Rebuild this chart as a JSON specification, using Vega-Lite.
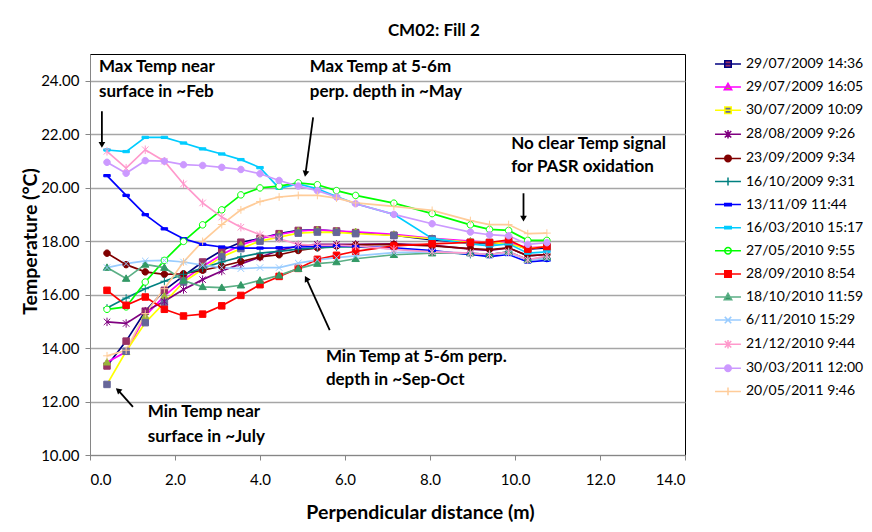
{
  "$schema": "https://vega.github.io/schema/vega-lite/v6.json",
  "width": 595,
  "height": 401,
  "padding": {"left": 20, "top": 22, "right": 0, "bottom": 5},
  "background": "white",
  "title": {"text": "CM02: Fill 2", "font": "Lato", "fontSize": 17, "fontWeight": "bold", "color": "black", "anchor": "middle", "frame": "bounds", "offset": 14, "dx": -10},
  "config": {
    "view": {"stroke": "black", "strokeWidth": 1},
    "axis": {"labelFont": "Lato", "labelFontSize": 15, "labelColor": "black", "titleFont": "Lato", "titleFontSize": 19.5, "titleFontWeight": "bold", "titleColor": "black", "domainColor": "#868686", "tickColor": "#868686", "tickSize": 5}
  },
  "datasets": {
    "series": [
      {"key": "s1", "name": "29/07/2009 14:36"},
      {"key": "s2", "name": "29/07/2009 16:05"},
      {"key": "s3", "name": "30/07/2009 10:09"},
      {"key": "s4", "name": "28/08/2009 9:26"},
      {"key": "s5", "name": "23/09/2009 9:34"},
      {"key": "s6", "name": "16/10/2009 9:31"},
      {"key": "s7", "name": "13/11/09 11:44"},
      {"key": "s8", "name": "16/03/2010 15:17"},
      {"key": "s9", "name": "27/05/2010 9:55"},
      {"key": "s10", "name": "28/09/2010 8:54"},
      {"key": "s11", "name": "18/10/2010 11:59"},
      {"key": "s12", "name": "6/11/2010 15:29"},
      {"key": "s13", "name": "21/12/2010 9:44"},
      {"key": "s14", "name": "30/03/2011 12:00"},
      {"key": "s15", "name": "20/05/2011 9:46"}
    ],
    "temps": [
      {"dist": 0.4, "s1": 13.33, "s2": 13.47, "s3": 12.64, "s4": 14.98, "s5": 17.55, "s6": 15.5, "s7": 20.45, "s8": 21.41, "s9": 15.45, "s10": 16.16, "s11": 17.01, "s12": 17.01, "s13": 21.36, "s14": 20.95, "s15": 13.71},
      {"dist": 0.85, "s1": 14.26, "s2": 13.86, "s3": 13.88, "s4": 14.92, "s5": 17.12, "s6": 15.87, "s7": 19.71, "s8": 21.35, "s9": 15.54, "s10": 15.6, "s11": 16.6, "s12": 17.16, "s13": 20.73, "s14": 20.54, "s15": 13.92},
      {"dist": 1.3, "s1": 15.38, "s2": 15.2, "s3": 14.95, "s4": 15.38, "s5": 16.85, "s6": 16.22, "s7": 18.99, "s8": 21.88, "s9": 16.47, "s10": 15.91, "s11": 17.13, "s12": 17.26, "s13": 21.42, "s14": 21.01, "s15": 15.29},
      {"dist": 1.75, "s1": 16.16, "s2": 15.95, "s3": 15.7, "s4": 15.75, "s5": 16.76, "s6": 16.5, "s7": 18.46, "s8": 21.88, "s9": 17.28, "s10": 15.45, "s11": 17.01, "s12": 17.28, "s13": 20.99, "s14": 20.99, "s15": 16.22},
      {"dist": 2.2, "s1": 16.7, "s2": 16.55, "s3": 16.47, "s4": 16.19, "s5": 16.78, "s6": 16.76, "s7": 18.09, "s8": 21.67, "s9": 17.99, "s10": 15.2, "s11": 16.53, "s12": 17.22, "s13": 20.14, "s14": 20.86, "s15": 17.22},
      {"dist": 2.65, "s1": 17.22, "s2": 17.05, "s3": 16.95, "s4": 16.56, "s5": 16.91, "s6": 16.99, "s7": 17.88, "s8": 21.45, "s9": 18.61, "s10": 15.27, "s11": 16.29, "s12": 17.1, "s13": 19.43, "s14": 20.83, "s15": 17.99},
      {"dist": 3.1, "s1": 17.65, "s2": 17.5, "s3": 17.41, "s4": 16.88, "s5": 17.06, "s6": 17.22, "s7": 17.78, "s8": 21.26, "s9": 19.17, "s10": 15.58, "s11": 16.26, "s12": 17.01, "s13": 18.9, "s14": 20.76, "s15": 18.62},
      {"dist": 3.55, "s1": 17.96, "s2": 17.85, "s3": 17.72, "s4": 17.15, "s5": 17.24, "s6": 17.41, "s7": 17.74, "s8": 21.05, "s9": 19.73, "s10": 15.97, "s11": 16.35, "s12": 16.97, "s13": 18.52, "s14": 20.68, "s15": 19.17},
      {"dist": 4.0, "s1": 18.1, "s2": 18.1, "s3": 18.0, "s4": 17.4, "s5": 17.41, "s6": 17.55, "s7": 17.74, "s8": 20.75, "s9": 19.99, "s10": 16.37, "s11": 16.53, "s12": 17.01, "s13": 18.24, "s14": 20.52, "s15": 19.48},
      {"dist": 4.45, "s1": 18.28, "s2": 18.25, "s3": 18.15, "s4": 17.65, "s5": 17.49, "s6": 17.62, "s7": 17.75, "s8": 19.98, "s9": 20.06, "s10": 16.68, "s11": 16.72, "s12": 17.01, "s13": 18.09, "s14": 20.27, "s15": 19.65},
      {"dist": 4.9, "s1": 18.4, "s2": 18.38, "s3": 18.3, "s4": 17.82, "s5": 17.65, "s6": 17.7, "s7": 17.78, "s8": 20.14, "s9": 20.18, "s10": 16.98, "s11": 16.97, "s12": 17.18, "s13": 17.88, "s14": 20.06, "s15": 19.71},
      {"dist": 5.35, "s1": 18.42, "s2": 18.42, "s3": 18.34, "s4": 17.88, "s5": 17.75, "s6": 17.75, "s7": 17.8, "s8": 19.96, "s9": 20.11, "s10": 17.32, "s11": 17.16, "s12": 17.3, "s13": 17.84, "s14": 19.89, "s15": 19.71},
      {"dist": 5.8, "s1": 18.38, "s2": 18.38, "s3": 18.33, "s4": 17.88, "s5": 17.82, "s6": 17.78, "s7": 17.82, "s8": 19.67, "s9": 19.89, "s10": 17.47, "s11": 17.22, "s12": 17.38, "s13": 17.84, "s14": 19.65, "s15": 19.61},
      {"dist": 6.25, "s1": 18.32, "s2": 18.35, "s3": 18.28, "s4": 17.88, "s5": 17.86, "s6": 17.78, "s7": 17.8, "s8": 19.4, "s9": 19.71, "s10": 17.62, "s11": 17.34, "s12": 17.45, "s13": 17.82, "s14": 19.4, "s15": 19.43},
      {"dist": 7.15, "s1": 18.22, "s2": 18.25, "s3": 18.21, "s4": 17.9, "s5": 17.88, "s6": 17.72, "s7": 17.75, "s8": 19.0, "s9": 19.42, "s10": 17.82, "s11": 17.49, "s12": 17.57, "s13": 17.69, "s14": 19.0, "s15": 19.3},
      {"dist": 8.05, "s1": 18.05, "s2": 18.1, "s3": 18.09, "s4": 17.85, "s5": 17.82, "s6": 17.62, "s7": 17.65, "s8": 18.1, "s9": 19.03, "s10": 17.9, "s11": 17.55, "s12": 17.6, "s13": 17.6, "s14": 18.65, "s15": 19.15},
      {"dist": 8.95, "s1": 17.95, "s2": 18.0, "s3": 17.95, "s4": 17.7, "s5": 17.72, "s6": 17.5, "s7": 17.5, "s8": 17.9, "s9": 18.61, "s10": 17.95, "s11": 17.55, "s12": 17.55, "s13": 17.55, "s14": 18.34, "s15": 18.77},
      {"dist": 9.4, "s1": 17.9, "s2": 17.95, "s3": 17.95, "s4": 17.65, "s5": 17.68, "s6": 17.5, "s7": 17.42, "s8": 17.82, "s9": 18.44, "s10": 17.95, "s11": 17.5, "s12": 17.5, "s13": 17.5, "s14": 18.24, "s15": 18.62},
      {"dist": 9.85, "s1": 17.95, "s2": 17.95, "s3": 17.9, "s4": 17.75, "s5": 17.75, "s6": 17.6, "s7": 17.5, "s8": 17.9, "s9": 18.4, "s10": 18.05, "s11": 17.6, "s12": 17.55, "s13": 17.6, "s14": 18.2, "s15": 18.62},
      {"dist": 10.3, "s1": 17.7, "s2": 17.75, "s3": 17.72, "s4": 17.45, "s5": 17.45, "s6": 17.3, "s7": 17.22, "s8": 17.55, "s9": 18.03, "s10": 17.7, "s11": 17.3, "s12": 17.3, "s13": 17.3, "s14": 17.88, "s15": 18.28},
      {"dist": 10.75, "s1": 17.75, "s2": 17.8, "s3": 17.8, "s4": 17.5, "s5": 17.5, "s6": 17.35, "s7": 17.28, "s8": 17.6, "s9": 18.03, "s10": 17.8, "s11": 17.4, "s12": 17.35, "s13": 17.45, "s14": 17.94, "s15": 18.3}
    ],
    "notes": [
      {"label": "Max Temp near", "nx": 0.21, "ny": 24.5},
      {"label": "surface in ~Feb", "nx": 0.21, "ny": 23.56},
      {"label": "Max Temp at 5-6m", "nx": 5.17, "ny": 24.5},
      {"label": "perp. depth in ~May", "nx": 5.17, "ny": 23.56},
      {"label": "No clear Temp signal", "nx": 9.91, "ny": 21.64},
      {"label": "for PASR oxidation", "nx": 9.91, "ny": 20.76},
      {"label": "Min Temp at 5-6m perp.", "nx": 5.55, "ny": 13.66},
      {"label": "depth in ~Sep-Oct", "nx": 5.55, "ny": 12.8},
      {"label": "Min Temp near", "nx": 1.36, "ny": 11.62},
      {"label": "surface in ~July", "nx": 1.36, "ny": 10.69}
    ],
    "arrows": [
      {"id": 1, "ax": 0.28, "ay": 22.86, "bx": 0.28, "by": 21.6},
      {"id": 2, "ax": 5.25, "ay": 22.63, "bx": 5.07, "by": 20.52},
      {"id": 3, "ax": 10.2, "ay": 19.79, "bx": 10.2, "by": 18.84},
      {"id": 4, "ax": 5.64, "ay": 14.67, "bx": 5.09, "by": 16.6},
      {"id": 5, "ax": 1.01, "ay": 11.8, "bx": 0.66, "by": 12.43}
    ]
  },
  "layer": [
    {
      "resolve": {"scale": {"shape": "independent", "fill": "independent", "stroke": "independent"}},
      "layer": [
        {
          "data": {"name": "temps"},
          "transform": [
            {"fold": ["s1", "s2", "s3", "s4", "s5", "s6", "s7", "s8", "s9", "s10", "s11", "s12", "s13", "s14", "s15"], "as": ["key", "temp"]},
            {"lookup": "key", "from": {"data": {"name": "series"}, "key": "key", "fields": ["name"]}}
          ],
          "encoding": {
            "x": {"field": "dist", "type": "quantitative", "title": "Perpendicular distance (m)",
                  "scale": {"domain": [0, 14], "nice": false, "zero": false},
                  "axis": {"values": [0, 2, 4, 6, 8, 10, 12, 14], "format": ".1f", "grid": false, "labelPadding": 12, "titlePadding": 16, "titleX": 330}},
            "y": {"field": "temp", "type": "quantitative", "title": "Temperature (°C)",
                  "scale": {"domain": [10, 25], "nice": false, "zero": false},
                  "axis": {"values": [10, 12, 14, 16, 18, 20, 22, 24], "format": ".2f", "grid": true, "gridColor": "#A6A6A6", "gridWidth": 1.5, "labelPadding": 6, "titlePadding": 0, "titleY": 187}}
          },
          "layer": [
            {
              "mark": {"type": "line", "strokeWidth": 1.7},
              "encoding": {
                "color": {"field": "name", "type": "nominal", "legend": null,
                  "scale": {
                    "domain": ["29/07/2009 14:36", "29/07/2009 16:05", "30/07/2009 10:09", "28/08/2009 9:26", "23/09/2009 9:34", "16/10/2009 9:31", "13/11/09 11:44", "16/03/2010 15:17", "27/05/2010 9:55", "28/09/2010 8:54", "18/10/2010 11:59", "6/11/2010 15:29", "21/12/2010 9:44", "30/03/2011 12:00", "20/05/2011 9:46"],
                    "range": ["#000080", "#FF00FF", "#FFFF00", "#800080", "#800000", "#008080", "#0000FF", "#00CCFF", "#00FF00", "#FF0000", "#5BAF85", "#99CCFF", "#FF99CC", "#CC99FF", "#FFCC99"]}}
              }
            },
            {
              "mark": {"type": "point", "size": 42, "strokeWidth": 1, "opacity": 1},
              "encoding": {
                "shape": {"field": "name", "type": "nominal", "legend": null,
                  "scale": {
                    "domain": ["29/07/2009 14:36", "29/07/2009 16:05", "30/07/2009 10:09", "28/08/2009 9:26", "23/09/2009 9:34", "16/10/2009 9:31", "13/11/09 11:44", "16/03/2010 15:17", "27/05/2010 9:55", "28/09/2010 8:54", "18/10/2010 11:59", "6/11/2010 15:29", "21/12/2010 9:44", "30/03/2011 12:00", "20/05/2011 9:46"],
                    "range": [
                      "M-1,-1H1V1H-1Z",
                      "M0,-1.15L1.15,0.85H-1.15Z",
                      "M-1,-1H1V1H-1Z",
                      "M-1,-1L1,1M-1,1L1,-1M0,-1.3V1.3",
                      "M1,0A1,1,0,1,1,-1,0A1,1,0,1,1,1,0Z",
                      "M-1.2,0H1.2M0,-1.2V1.2",
                      "M-1,-0.35H1V0.35H-1Z",
                      "M-1,-0.35H1V0.35H-1Z",
                      "M1,0A1,1,0,1,1,-1,0A1,1,0,1,1,1,0Z",
                      "M-1,-1H1V1H-1Z",
                      "M0,-1.15L1.15,0.85H-1.15Z",
                      "M-1,-1L1,1M-1,1L1,-1",
                      "M-1,-1L1,1M-1,1L1,-1M0,-1.3V1.3",
                      "M1,0A1,1,0,1,1,-1,0A1,1,0,1,1,1,0Z",
                      "M-1.2,0H1.2M0,-1.2V1.2"
                    ]}},
                "fill": {"field": "name", "type": "nominal", "legend": null,
                  "scale": {
                    "domain": ["29/07/2009 14:36", "29/07/2009 16:05", "30/07/2009 10:09", "28/08/2009 9:26", "23/09/2009 9:34", "16/10/2009 9:31", "13/11/09 11:44", "16/03/2010 15:17", "27/05/2010 9:55", "28/09/2010 8:54", "18/10/2010 11:59", "6/11/2010 15:29", "21/12/2010 9:44", "30/03/2011 12:00", "20/05/2011 9:46"],
                    "range": ["#993366", "#99B43C", "#666699", "#800080", "#800000", "#008080", "#0000FF", "#00CCFF", "#FFFFFF", "#FF0000", "#339966", "#99CCFF", "#FF99CC", "#CC99FF", "#FFCC99"]}},
                "stroke": {"field": "name", "type": "nominal", "legend": null,
                  "scale": {
                    "domain": ["29/07/2009 14:36", "29/07/2009 16:05", "30/07/2009 10:09", "28/08/2009 9:26", "23/09/2009 9:34", "16/10/2009 9:31", "13/11/09 11:44", "16/03/2010 15:17", "27/05/2010 9:55", "28/09/2010 8:54", "18/10/2010 11:59", "6/11/2010 15:29", "21/12/2010 9:44", "30/03/2011 12:00", "20/05/2011 9:46"],
                    "range": ["#993366", "#99B43C", "#666699", "#800080", "#800000", "#008080", "#0000FF", "#00CCFF", "#00FF00", "#FF0000", "#339966", "#99CCFF", "#FF99CC", "#CC99FF", "#FFCC99"]}}
              }
            }
          ]
        },
        {
          "data": {"name": "series"},
          "transform": [{"filter": "false"}],
          "mark": {"type": "point", "opacity": 1, "filled": true},
          "encoding": {
            "shape": {"field": "name", "type": "nominal",
              "scale": {
                "domain": ["29/07/2009 14:36", "29/07/2009 16:05", "30/07/2009 10:09", "28/08/2009 9:26", "23/09/2009 9:34", "16/10/2009 9:31", "13/11/09 11:44", "16/03/2010 15:17", "27/05/2010 9:55", "28/09/2010 8:54", "18/10/2010 11:59", "6/11/2010 15:29", "21/12/2010 9:44", "30/03/2011 12:00", "20/05/2011 9:46"],
                "range": [
                  "M-4,0H4M-1,-1H1V1H-1Z",
                  "M-4,0H4M0,-1.15L1.15,0.85H-1.15Z",
                  "M-4,0H4M-1,-1H1V1H-1Z",
                  "M-4,0H4M-1,-1L1,1M-1,1L1,-1M0,-1.3V1.3",
                  "M-4,0H4M1,0A1,1,0,1,1,-1,0A1,1,0,1,1,1,0Z",
                  "M-4,0H4M-1.2,0H1.2M0,-1.2V1.2",
                  "M-4,0H4M-1,-0.35H1V0.35H-1Z",
                  "M-4,0H4M-1,-0.35H1V0.35H-1Z",
                  "M-4,0H4M1,0A1,1,0,1,1,-1,0A1,1,0,1,1,1,0Z",
                  "M-4,0H4M-1,-1H1V1H-1Z",
                  "M-4,0H4M0,-1.15L1.15,0.85H-1.15Z",
                  "M-4,0H4M-1,-1L1,1M-1,1L1,-1",
                  "M-4,0H4M-1,-1L1,1M-1,1L1,-1M0,-1.3V1.3",
                  "M-4,0H4M1,0A1,1,0,1,1,-1,0A1,1,0,1,1,1,0Z",
                  "M-4,0H4M-1.2,0H1.2M0,-1.2V1.2"
                ]},
              "legend": {"title": null, "orient": "right", "offset": 33, "padding": 3, "labelFont": "Lato", "labelFontSize": 14, "labelColor": "black", "labelOffset": 11, "rowPadding": 9.1, "symbolSize": 42, "symbolStrokeWidth": 1.5}},
            "fill": {"field": "name", "type": "nominal",
              "scale": {
                "domain": ["29/07/2009 14:36", "29/07/2009 16:05", "30/07/2009 10:09", "28/08/2009 9:26", "23/09/2009 9:34", "16/10/2009 9:31", "13/11/09 11:44", "16/03/2010 15:17", "27/05/2010 9:55", "28/09/2010 8:54", "18/10/2010 11:59", "6/11/2010 15:29", "21/12/2010 9:44", "30/03/2011 12:00", "20/05/2011 9:46"],
                "range": ["#993366", "#99B43C", "#666699", "#800080", "#800000", "#008080", "#0000FF", "#00CCFF", "#FFFFFF", "#FF0000", "#339966", "#99CCFF", "#FF99CC", "#CC99FF", "#FFCC99"]},
              "legend": {"title": null, "orient": "right", "offset": 33, "padding": 3, "labelFont": "Lato", "labelFontSize": 14, "labelColor": "black", "labelOffset": 11, "rowPadding": 9.1, "symbolSize": 42, "symbolStrokeWidth": 1.5}},
            "stroke": {"field": "name", "type": "nominal",
              "scale": {
                "domain": ["29/07/2009 14:36", "29/07/2009 16:05", "30/07/2009 10:09", "28/08/2009 9:26", "23/09/2009 9:34", "16/10/2009 9:31", "13/11/09 11:44", "16/03/2010 15:17", "27/05/2010 9:55", "28/09/2010 8:54", "18/10/2010 11:59", "6/11/2010 15:29", "21/12/2010 9:44", "30/03/2011 12:00", "20/05/2011 9:46"],
                "range": ["#000080", "#FF00FF", "#FFFF00", "#800080", "#800000", "#008080", "#0000FF", "#00CCFF", "#00FF00", "#FF0000", "#5BAF85", "#99CCFF", "#FF99CC", "#CC99FF", "#FFCC99"]},
              "legend": {"title": null, "orient": "right", "offset": 33, "padding": 3, "labelFont": "Lato", "labelFontSize": 14, "labelColor": "black", "labelOffset": 11, "rowPadding": 9.1, "symbolSize": 42, "symbolStrokeWidth": 1.5}}
          }
        }
      ]
    },
    {
      "data": {"name": "notes"},
      "mark": {"type": "text", "align": "left", "baseline": "middle", "font": "Lato", "fontSize": 17, "fontWeight": "bold", "color": "black"},
      "encoding": {
        "x": {"field": "nx", "type": "quantitative", "title": "Perpendicular distance (m)"},
        "y": {"field": "ny", "type": "quantitative", "title": "Temperature (°C)"},
        "text": {"field": "label"}
      }
    },
    {
      "data": {"name": "arrows"},
      "mark": {"type": "rule", "strokeWidth": 1.8, "color": "black"},
      "encoding": {
        "x": {"field": "ax", "type": "quantitative", "title": "Perpendicular distance (m)"},
        "y": {"field": "ay", "type": "quantitative", "title": "Temperature (°C)"},
        "x2": {"field": "bx"},
        "y2": {"field": "by"}
      }
    },
    {
      "data": {"name": "arrows"},
      "transform": [{"filter": "datum.id == 1 || datum.id == 3"}],
      "mark": {"type": "point", "shape": "triangle-up", "filled": true, "color": "black", "opacity": 1, "size": 45, "angle": 180},
      "encoding": {
        "x": {"field": "bx", "type": "quantitative", "title": "Perpendicular distance (m)"},
        "y": {"field": "by", "type": "quantitative", "title": "Temperature (°C)"}
      }
    },
    {
      "data": {"name": "arrows"},
      "transform": [{"filter": "datum.id == 2"}],
      "mark": {"type": "point", "shape": "triangle-up", "filled": true, "color": "black", "opacity": 1, "size": 45, "angle": 190},
      "encoding": {
        "x": {"field": "bx", "type": "quantitative", "title": "Perpendicular distance (m)"},
        "y": {"field": "by", "type": "quantitative", "title": "Temperature (°C)"}
      }
    },
    {
      "data": {"name": "arrows"},
      "transform": [{"filter": "datum.id == 4"}],
      "mark": {"type": "point", "shape": "triangle-up", "filled": true, "color": "black", "opacity": 1, "size": 45, "angle": 331},
      "encoding": {
        "x": {"field": "bx", "type": "quantitative", "title": "Perpendicular distance (m)"},
        "y": {"field": "by", "type": "quantitative", "title": "Temperature (°C)"}
      }
    },
    {
      "data": {"name": "arrows"},
      "transform": [{"filter": "datum.id == 5"}],
      "mark": {"type": "point", "shape": "triangle-up", "filled": true, "color": "black", "opacity": 1, "size": 45, "angle": 311},
      "encoding": {
        "x": {"field": "bx", "type": "quantitative", "title": "Perpendicular distance (m)"},
        "y": {"field": "by", "type": "quantitative", "title": "Temperature (°C)"}
      }
    }
  ]
}
